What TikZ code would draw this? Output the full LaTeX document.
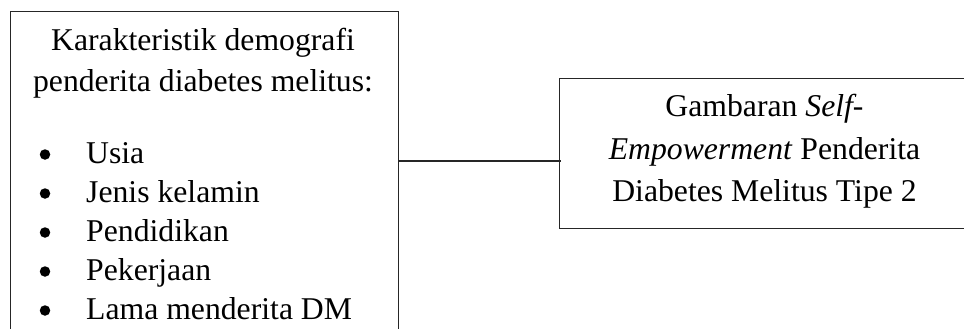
\documentclass[tikz,border=0pt]{standalone}
\usepackage{fontspec}
\setmainfont{Liberation Serif}
\begin{document}
\begin{tikzpicture}[x=1pt,y=-1pt,
  boxshape/.style={draw=black!85, line width=1.3pt, inner sep=0pt, rectangle, anchor=north west},
  txt/.style={inner sep=0pt, font=\fontsize{31.7}{38}\selectfont},
  dotmark/.style={circle, fill=black, inner sep=0pt, minimum size=10.5pt},
  conn/.style={draw=black!85, line width=1.3pt}]
\useasboundingbox (0,0) rectangle (964,329);
\clip (0,0) rectangle (964,329);
% boxes
\node[boxshape, minimum width=388pt, minimum height=340pt] (left) at (10,11) {};
\node[boxshape, minimum width=411pt, minimum height=150pt] (right) at (559,78) {};
% left box text
\node[txt, anchor=base] (t1) at (203,51) {Karakteristik demografi};
\node[txt, anchor=base] (t2) at (203,92) {penderita diabetes melitus:};
\foreach \i/\lbl in {0/Usia, 1/Jenis kelamin, 2/Pendidikan, 3/Pekerjaan, 4/Lama menderita DM}{
  \node[txt, anchor=base west] (item\i) at (86,163+39*\i) {\lbl};
  \node[dotmark] (dot\i) at (45,154.5+39*\i) {};
}
% right box text
\node[txt, anchor=base] (r1) at (764.5,117) {Gambaran \textit{Self-}};
\node[txt, anchor=base] (r2) at (764.5,159) {\textit{Empowerment} Penderita};
\node[txt, anchor=base] (r3) at (764.5,201) {Diabetes Melitus Tipe 2};
% connector
\coordinate (ly) at (0,161);
\draw[conn, shorten >=-2pt] (left.east |- ly) -- (right.west |- ly);
\end{tikzpicture}
\end{document}
